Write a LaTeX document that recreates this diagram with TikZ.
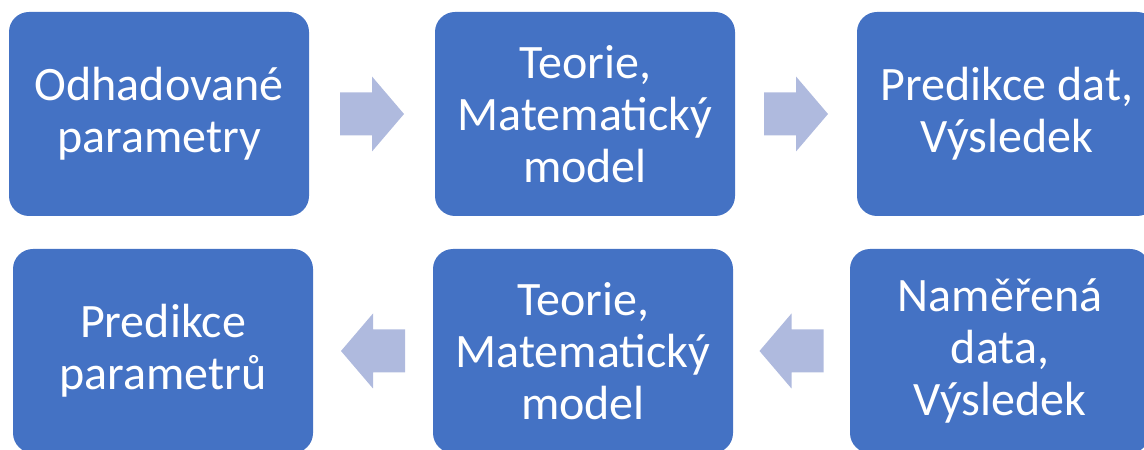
\documentclass[tikz,border=0pt]{standalone}
\usepackage{fontspec}
\setmainfont{Carlito}
\usepackage{tikz}
\usetikzlibrary{positioning,calc}
\definecolor{boxblue}{RGB}{68,114,196}
\definecolor{arrowblue}{RGB}{175,186,222}
\tikzset{blockarrow/.pic={\fill[arrowblue, sharp corners] (-32,-21.5) -- (0,-21.5) -- (0,-37.5) -- (32,0) -- (0,37.5) -- (0,21.5) -- (-32,21.5) -- cycle;}}

\begin{document}
\begin{tikzpicture}[x=1pt, y=1pt,
                  every node/.style={rectangle, rounded corners=20pt, fill=boxblue, text=white,
                    minimum width=300pt, minimum height=204pt, outer sep=0pt, align=center,
                    font=\fontsize{48}{52}\selectfont}]
    \useasboundingbox (0,0) rectangle (1144,450);
    \node (A) at (159,336) {Odhadované\\parametry};
    \node (B)[right=126pt of A] {Teorie,\\Matematický\\model};
    \node (C)[right=122pt of B] {Predikce dat,\\Výsledek};
    \node (F) at (163,99) {Predikce\\parametrů};
    \node (E)[right=120pt of F] {Teorie,\\Matematický\\model};
    \node (D)[right=117pt of E] {Naměřená\\data,\\Výsledek};
    \pic at ($(A.east)!0.5!(B.west)$) {blockarrow};
    \pic at ($(B.east)!0.5!(C.west)$) {blockarrow};
    \pic[rotate=180] at ($(D.west)!0.5!(E.east)$) {blockarrow};
    \pic[rotate=180] at ($(E.west)!0.5!(F.east)$) {blockarrow};
  \end{tikzpicture}
\end{document}
